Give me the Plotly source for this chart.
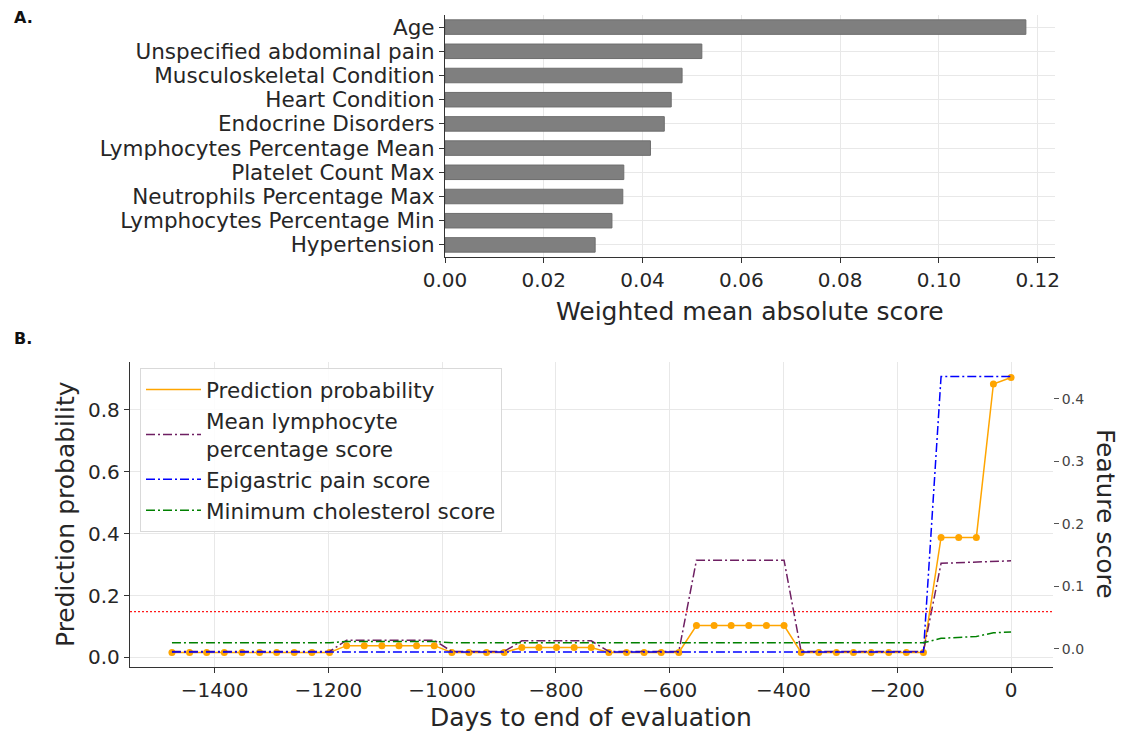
import plotly.graph_objects as go

# ── Panel A: feature importance ──────────────────────────────────────────────
features = [
    "Age",
    "Unspecified abdominal pain",
    "Musculoskeletal Condition",
    "Heart Condition",
    "Endocrine Disorders",
    "Lymphocytes Percentage Mean",
    "Platelet Count Max",
    "Neutrophils Percentage Max",
    "Lymphocytes Percentage Min",
    "Hypertension",
]
importance = [0.1176, 0.0520, 0.0480, 0.0458, 0.0444, 0.0416, 0.0362, 0.0360, 0.0338, 0.0304]

# ── Panel B: patient timeline ────────────────────────────────────────────────
days = [
    -1475, -1444, -1414, -1383, -1352, -1321, -1291, -1260, -1229, -1198,
    -1168, -1137, -1106, -1076, -1045, -1014, -983, -953, -922, -891,
    -860, -830, -799, -768, -738, -707, -676, -645, -615, -584,
    -553, -522, -492, -461, -430, -399, -369, -338, -307, -277,
    -246, -215, -184, -154, -123, -92, -61, -31, 0,
]
pred_prob = [
    0.016, 0.016, 0.016, 0.016, 0.016, 0.016, 0.016, 0.016, 0.016, 0.016,
    0.038, 0.038, 0.038, 0.038, 0.038, 0.038, 0.016, 0.016, 0.016, 0.016,
    0.032, 0.032, 0.032, 0.032, 0.032, 0.016, 0.016, 0.016, 0.016, 0.016,
    0.103, 0.103, 0.103, 0.103, 0.103, 0.103, 0.016, 0.016, 0.016, 0.016,
    0.016, 0.016, 0.016, 0.016, 0.388, 0.388, 0.388, 0.884, 0.905,
]
lymph_score = [
    -0.004, -0.004, -0.004, -0.004, -0.004, -0.004, -0.004, -0.004, -0.004, -0.004,
    0.014, 0.014, 0.014, 0.014, 0.014, 0.014, -0.004, -0.004, -0.004, -0.004,
    0.013, 0.013, 0.013, 0.013, 0.013, -0.004, -0.004, -0.004, -0.004, -0.004,
    0.142, 0.142, 0.142, 0.142, 0.142, 0.142, -0.004, -0.004, -0.004, -0.004,
    -0.004, -0.004, -0.004, -0.004, 0.137, 0.138, 0.139, 0.140, 0.141,
]
epigastric_score = [
    -0.005, -0.005, -0.005, -0.005, -0.005, -0.005, -0.005, -0.005, -0.005, -0.005,
    -0.005, -0.005, -0.005, -0.005, -0.005, -0.005, -0.005, -0.005, -0.005, -0.005,
    -0.005, -0.005, -0.005, -0.005, -0.005, -0.005, -0.005, -0.005, -0.005, -0.005,
    -0.005, -0.005, -0.005, -0.005, -0.005, -0.005, -0.005, -0.005, -0.005, -0.005,
    -0.005, -0.005, -0.005, -0.005, 0.436, 0.436, 0.436, 0.436, 0.436,
]
cholesterol_score = [
    0.010, 0.010, 0.010, 0.010, 0.010, 0.010, 0.010, 0.010, 0.010, 0.010,
    0.012, 0.012, 0.012, 0.012, 0.012, 0.012, 0.010, 0.010, 0.010, 0.010,
    0.011, 0.011, 0.011, 0.011, 0.011, 0.010, 0.010, 0.010, 0.010, 0.010,
    0.010, 0.010, 0.010, 0.010, 0.010, 0.010, 0.010, 0.010, 0.010, 0.010,
    0.010, 0.010, 0.010, 0.010, 0.017, 0.018, 0.020, 0.026, 0.027,
]
threshold = 0.148

FONT = "DejaVu Sans, Arial, sans-serif"
TEXT = "#262626"
GRID = "#e8e8e8"
DASHDOT = "9px,3px,2px,3px"

W, H = 1128, 735


def px_x(p):
    return p / W


def px_y(p):
    return 1 - p / H


def label(text, x, y, size=25, angle=0, bold=False, anchor="center"):
    return {
        "text": f"<b>{text}</b>" if bold else text,
        "x": px_x(x),
        "y": px_y(y),
        "xref": "paper",
        "yref": "paper",
        "xanchor": anchor,
        "yanchor": "middle",
        "showarrow": False,
        "textangle": angle,
        "font": {"size": size, "color": "#111111" if bold else TEXT, "family": FONT},
    }


fig = go.Figure()

fig.add_trace(
    go.Bar(
        x=importance,
        y=features,
        orientation="h",
        width=0.6,
        marker={"color": "#7f7f7f", "line": {"color": "#6e6e6e", "width": 1}},
        xaxis="x",
        yaxis="y",
        showlegend=False,
    )
)

fig.add_trace(
    go.Scatter(
        x=days, y=pred_prob, mode="lines", name="Prediction probability",
        line={"color": "#FFA500", "width": 1.5},
        xaxis="x2", yaxis="y2",
    )
)
fig.add_trace(
    go.Scatter(
        x=days, y=pred_prob, mode="markers", showlegend=False,
        marker={"color": "#FFA500", "size": 7},
        xaxis="x2", yaxis="y2",
    )
)
for name, vals, color in [
    ("Mean lymphocyte<br>percentage score", lymph_score, "#6e1f62"),
    ("Epigastric pain score", epigastric_score, "blue"),
    ("Minimum cholesterol score", cholesterol_score, "green"),
]:
    fig.add_trace(
        go.Scatter(
            x=days, y=vals, mode="lines", name=name,
            line={"color": color, "width": 1.5, "dash": DASHDOT},
            xaxis="x2", yaxis="y3",
        )
    )

axis_common = {
    "automargin": False,
    "showline": True,
    "linecolor": "#333333",
    "linewidth": 1.3,
    "ticks": "outside",
    "ticklen": 5,
    "tickwidth": 1.3,
    "tickcolor": "#333333",
    "gridcolor": GRID,
    "gridwidth": 1,
    "zeroline": False,
    "tickfont": {"size": 20, "color": TEXT, "family": FONT},
}

fig.update_layout(
    width=W,
    height=H,
    margin={"l": 0, "r": 0, "t": 0, "b": 0},
    paper_bgcolor="white",
    plot_bgcolor="white",
    font={"family": FONT, "color": TEXT},
    xaxis={
        **axis_common,
        "domain": [px_x(445), px_x(1055)],
        "anchor": "y",
        "range": [0, 0.1235],
        "tickvals": [0, 0.02, 0.04, 0.06, 0.08, 0.10, 0.12],
        "ticktext": ["0.00", "0.02", "0.04", "0.06", "0.08", "0.10", "0.12"],
    },
    yaxis={
        **axis_common,
        "domain": [px_y(257), px_y(15)],
        "anchor": "x",
        "range": [9.5, -0.5],
        "type": "category",
        "tickmode": "linear",
        "dtick": 1,
        "showgrid": True,
        "tickfont": {"size": 21.5, "color": TEXT, "family": FONT},
    },
    xaxis2={
        **axis_common,
        "domain": [px_x(130), px_x(1053)],
        "anchor": "y2",
        "range": [-1548.75, 73.75],
        "tickvals": [-1400, -1200, -1000, -800, -600, -400, -200, 0],
        "ticktext": ["\u22121400", "\u22121200", "\u22121000", "\u2212800",
                     "\u2212600", "\u2212400", "\u2212200", "0"],
    },
    yaxis2={
        **axis_common,
        "domain": [px_y(667), px_y(362)],
        "anchor": "x2",
        "range": [-0.031, 0.955],
        "tickvals": [0, 0.2, 0.4, 0.6, 0.8],
        "ticktext": ["0.0", "0.2", "0.4", "0.6", "0.8"],
    },
    yaxis3={
        "automargin": False,
        "overlaying": "y2",
        "side": "right",
        "anchor": "x2",
        "range": [-0.0288, 0.459],
        "showline": False,
        "showgrid": False,
        "zeroline": False,
        "ticks": "outside",
        "ticklen": 5,
        "tickcolor": "#555555",
        "tickvals": [0, 0.1, 0.2, 0.3, 0.4],
        "ticktext": ["0.0", "0.1", "0.2", "0.3", "0.4"],
        "tickfont": {"size": 14, "color": "#444444", "family": FONT},
    },
    legend={
        "x": px_x(140),
        "y": px_y(368),
        "xanchor": "left",
        "yanchor": "top",
        "bgcolor": "rgba(255,255,255,0.85)",
        "bordercolor": "#d9d9d9",
        "borderwidth": 1,
        "font": {"size": 21.5, "color": TEXT, "family": FONT},
        "tracegroupgap": 0,
        "itemwidth": 55,
    },
    shapes=[
        {
            "type": "line",
            "xref": "x2 domain",
            "yref": "y2",
            "x0": 0,
            "x1": 1,
            "y0": threshold,
            "y1": threshold,
            "line": {"color": "#ff1a1a", "width": 1.4, "dash": "2px,2px"},
        }
    ],
    annotations=[
        label("A.", 12, 18, size=16, bold=True, anchor="left"),
        label("B.", 12, 338, size=16, bold=True, anchor="left"),
        label("Weighted mean absolute score", 750, 311),
        label("Days to end of evaluation", 591, 717),
        label("Prediction probability", 65, 514, angle=-90),
        label("Feature score", 1106, 514, angle=90),
    ],
)

fig.write_html(
    "out.html",
    config={"displayModeBar": False},
    post_script="document.body.style.margin='0';document.body.style.overflow='hidden';",
)
